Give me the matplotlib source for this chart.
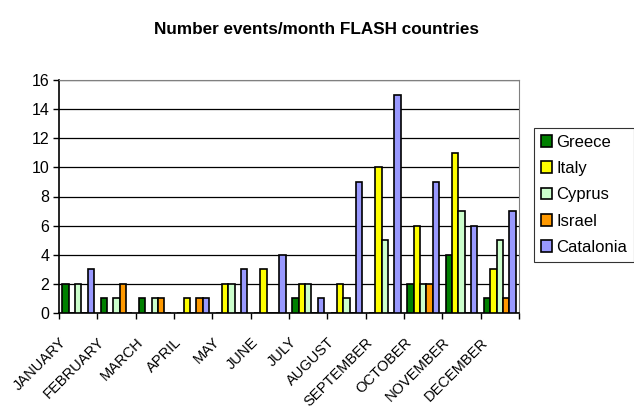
import matplotlib
matplotlib.use("Agg")
import matplotlib.pyplot as plt
import matplotlib.transforms as mtransforms
import numpy as np

plt.rcParams['font.family'] = ['Liberation Sans', 'DejaVu Sans']

months = ["JANUARY", "FEBRUARY", "MARCH", "APRIL", "MAY", "JUNE", "JULY",
          "AUGUST", "SEPTEMBER", "OCTOBER", "NOVEMBER", "DECEMBER"]
greece = [2, 1, 1, 0, 0, 0, 1, 0, 0, 2, 4, 1]
italy = [0, 0, 0, 1, 2, 3, 2, 2, 10, 6, 11, 3]
cyprus = [2, 1, 1, 0, 2, 0, 2, 1, 5, 2, 7, 5]
israel = [0, 2, 1, 1, 0, 0, 0, 0, 0, 2, 0, 1]
catalonia = [3, 0, 0, 1, 3, 4, 1, 9, 15, 9, 6, 7]

series = [("Greece", greece, "#008000"),
          ("Italy", italy, "#FFFF00"),
          ("Cyprus", cyprus, "#CCFFCC"),
          ("Israel", israel, "#FF9900"),
          ("Catalonia", catalonia, "#9999FF")]

fig = plt.figure(figsize=(6.34, 4.12), dpi=100)
ax = fig.add_axes([59/634, 1-313/412, (519-59)/634, (313-80)/412])

x = np.arange(len(months))
w = 0.165
for i, (name, vals, col) in enumerate(series):
    ax.bar(x + (i - 2) * w, vals, w, color=col, edgecolor="black",
           linewidth=1.2, label=name, zorder=3)

ax.set_xlim(-0.5, len(months) - 0.5)
ax.set_ylim(0, 16)
ax.set_yticks(range(0, 17, 2))
ax.yaxis.grid(True, color="black", linewidth=0.9, zorder=0)
ax.set_xticks(np.arange(-0.5, len(months), 1.0))
ax.set_xticklabels([])

base = ax.get_xaxis_transform()
off = mtransforms.ScaledTranslation(-14/100, -27/100, fig.dpi_scale_trans)
for xi, m in zip(x, months):
    ax.text(xi, 0, m, transform=base + off, rotation=45, ha="right",
            va="center", rotation_mode="anchor", fontsize=10.5, clip_on=False)

ax.tick_params(axis="x", length=4, direction="out", width=1)
ax.tick_params(axis="y", length=4, width=1, labelsize=11.5, pad=3)
ax.spines["top"].set_color("#808080")
ax.spines["right"].set_color("#808080")
ax.spines["left"].set_linewidth(1.2)
ax.spines["bottom"].set_linewidth(1.2)
ax.set_axisbelow(True)

fig.text(0.5, 1 - 30/412, "Number events/month FLASH countries",
         ha="center", va="center", fontsize=12.3, fontweight="bold")

leg = fig.legend(loc="upper left", bbox_to_anchor=(534/634, 1 - 128/412),
                 fontsize=12, frameon=True, fancybox=False, handlelength=0.7,
                 handleheight=0.7, handletextpad=0.25, borderpad=0.4,
                 labelspacing=0.68, borderaxespad=0)
leg.get_frame().set_edgecolor("black")
leg.get_frame().set_linewidth(0.8)

fig.savefig("out.png", dpi=100)
